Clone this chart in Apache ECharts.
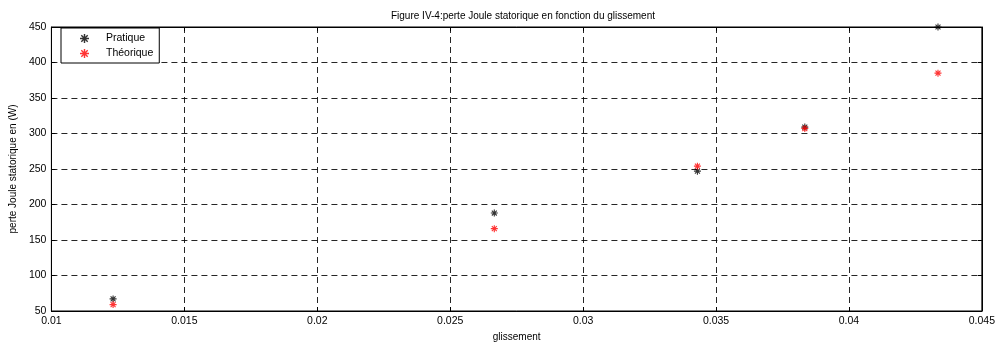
<!DOCTYPE html>
<html>
<head>
<meta charset="utf-8">
<script src="https://cdn.jsdelivr.net/npm/echarts@6/dist/echarts.min.js"></script>
<style>
  html, body { margin: 0; padding: 0; background: #fff; }
  #chart { width: 998px; height: 347px; }
</style>
</head>
<body>
<div id="chart"></div>
<script>
// Slip values (glissement) and stator Joule losses in W
const glissement = [0.01232, 0.02666, 0.03430, 0.03834, 0.04335];
const pratique = [67, 188, 247, 309, 450];
const theorique = [59, 166, 254, 307, 385];
const xTicks = ['0.01', '0.015', '0.02', '0.025', '0.03', '0.035', '0.04', '0.045'];

// Asterisk marker built from four bars
const asterisk = 'path://M4.2,0 L5.8,0 L5.8,10 L4.2,10 Z M0,4.2 L10,4.2 L10,5.8 L0,5.8 Z ' +
  'M0.9,2.0 L2.0,0.9 L9.1,8.0 L8.0,9.1 Z M8.0,0.9 L9.1,2.0 L2.0,9.1 L0.9,8.0 Z';

const font = 'Liberation Sans, Arial, sans-serif';

const chart = echarts.init(document.getElementById('chart'), null, { renderer: 'canvas' });

const pairs = (xs, ys) => xs.map((x, i) => [x, ys[i]]);

chart.setOption({
  animation: false,
  title: {
    text: 'Figure IV-4:perte Joule statorique en fonction du glissement',
    left: 518, top: 6, textAlign: 'center',
    textStyle: { fontFamily: font, fontSize: 10, fontWeight: 'normal', color: '#000' }
  },
  legend: {
    orient: 'vertical',
    left: 61, top: 28,
    padding: [5, 6, 4, 19],
    itemGap: 4,
    itemWidth: 9, itemHeight: 9,
    borderColor: '#000', borderWidth: 1, borderRadius: 0,
    backgroundColor: '#fff',
    textStyle: { fontFamily: font, fontSize: 10.5, color: '#000', padding: [0, 0, 0, 12] },
    data: ['Pratique', 'Théorique']
  },
  grid: {
    left: 51, right: 16, top: 27, bottom: 35,
    show: true, borderColor: '#000', borderWidth: 1
  },
  xAxis: [{
    type: 'value', min: 0.01, max: 0.045, interval: 0.005,
    name: 'glissement', nameLocation: 'middle', nameGap: 21,
    nameTextStyle: { fontFamily: font, fontSize: 10, color: '#000' },
    axisLine: { show: true, lineStyle: { color: '#000', width: 1 } },
    axisTick: { show: true, inside: true, length: 4, lineStyle: { color: '#000' } },
    axisLabel: {
      fontFamily: font, fontSize: 10.5, color: '#000', margin: 5,
      formatter: v => xTicks[Math.round((v - 0.01) / 0.005)] || ''
    },
    splitLine: { show: true, lineStyle: { color: '#000', type: [6, 4], width: 1, opacity: 0.85 } }
  }, {
    type: 'value', position: 'top', min: 0.01, max: 0.045, interval: 0.005,
    axisLine: { show: true, lineStyle: { color: '#000' } },
    axisTick: { show: true, inside: true, length: 4, lineStyle: { color: '#000' } },
    axisLabel: { show: false }, splitLine: { show: false }
  }],
  yAxis: [{
    type: 'value', min: 50, max: 450, interval: 50,
    name: 'perte Joule statorique en (W)', nameLocation: 'middle', nameGap: 33,
    nameTextStyle: { fontFamily: font, fontSize: 10, color: '#000' },
    axisLine: { show: true, lineStyle: { color: '#000', width: 1 } },
    axisTick: { show: true, inside: true, length: 4, lineStyle: { color: '#000' } },
    axisLabel: { fontFamily: font, fontSize: 10.5, color: '#000', margin: 5 },
    splitLine: { show: true, lineStyle: { color: '#000', type: [6, 4], width: 1, opacity: 0.85 } }
  }, {
    type: 'value', position: 'right', min: 50, max: 450, interval: 50,
    axisLine: { show: true, lineStyle: { color: '#000' } },
    axisTick: { show: true, inside: true, length: 4, lineStyle: { color: '#000' } },
    axisLabel: { show: false }, splitLine: { show: false }
  }],
  series: [{
    name: 'Pratique', type: 'scatter',
    symbol: asterisk, symbolSize: 7,
    itemStyle: { color: '#000' },
    data: pairs(glissement, pratique), z: 3
  }, {
    name: 'Théorique', type: 'scatter',
    symbol: asterisk, symbolSize: 7,
    itemStyle: { color: '#ff0000' },
    data: pairs(glissement, theorique), z: 4
  }]
});
</script>
</body>
</html>
